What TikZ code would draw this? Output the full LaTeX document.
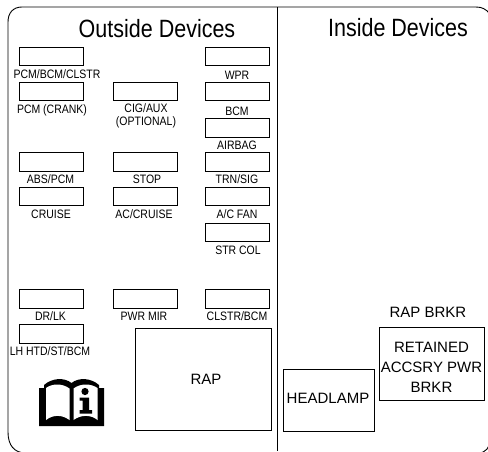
\documentclass[tikz,border=0pt]{standalone}
\usepackage{fontspec}
\setmainfont[FakeStretch=0.86]{Liberation Sans}
\newfontfamily\wideface[FakeStretch=1.0]{Liberation Sans}
\tikzset{
  x=1pt,y=-1pt,
  frame/.style={draw=black,line width=0.9pt},
  fuse/.style={draw=black,line width=1.1pt,fill=white,minimum width=64pt,minimum height=18.5pt,inner sep=0pt,anchor=north west},
  relay/.style={draw=black,line width=1.2pt,fill=white,inner sep=0pt,anchor=north west},
  lab/.style={inner sep=0pt,font=\fontsize{12.2}{13}\selectfont,align=center,text=black},
  biglab/.style={inner sep=0pt,font=\wideface\fontsize{15}{20}\selectfont,align=center,text=black},
  head/.style={inner sep=0pt,font=\fontsize{25}{28}\selectfont,text=black}
}
\begin{document}
\begin{tikzpicture}
\useasboundingbox (0,0) rectangle (488,451);
\clip (0,0) rectangle (488,451);
\fill[white] (0,0) rectangle (488,451);
% frame
\draw[frame] (8,432) -- (8,22) .. controls (8,13) and (13,7) .. (22,7) -- (476,7) .. controls (482,7) and (486,9) .. (490,14) -- (490,440) .. controls (490,447) and (486,453) .. (478,453) -- (26,453) .. controls (14,453) and (8,445) .. (8,432);
\coordinate (dt) at (277.2,7);
\coordinate (db) at (277.2,451);
\draw[frame] (dt) -- (db);
\node[head] (h1) at (157,29) {Outside Devices};
\node[head] (h2) at (398,28) {Inside Devices};
% fuses
\foreach \n/\x/\y in {a/18.5/46.5,b/18.5/81.5,c/113/81.5,d/18.5/152,e/113/152,f/18.5/186.5,g/113/186.5,
  k/205/46.5,l/205/81.5,m/205/118,n/205/152,o/205/186.5,p/205/222.5,q/18.5/289,r/113/289,s/205/289,t/18.5/324}
  \node[fuse] (\n) at (\x,\y) {};
\node[lab] (la) at (57,74.5) {PCM/BCM/CLSTR};
\node[lab] (lb) at (52,110.5) {PCM (CRANK)};
\node[lab] (lc) at (146,115.5) {CIG/AUX\\(OPTIONAL)};
\node[lab] (ld) at (50.5,179.5) {ABS/PCM};
\node[lab] (le) at (147,179.5) {STOP};
\node[lab] (lf) at (51,214.5) {CRUISE};
\node[lab] (lg) at (144,214.5) {AC/CRUISE};
\node[lab] (lk) at (237,75) {WPR};
\node[lab] (ll) at (237,111.5) {BCM};
\node[lab] (lm) at (237,145.5) {AIRBAG};
\node[lab] (ln) at (237,179.5) {TRN/SIG};
\node[lab] (lo) at (237,214.5) {A/C FAN};
\node[lab] (lp) at (238,250.5) {STR COL};
\node[lab] (lq) at (50.5,316.5) {DR/LK};
\node[lab] (lr) at (144,316.5) {PWR MIR};
\node[lab] (ls) at (237,316.5) {CLSTR/BCM};
\node[lab] (lt) at (50,351) {LH HTD/ST/BCM};
% relays
\node[relay,minimum width=136pt,minimum height=102pt] (rap) at (135,328) {};
\node[biglab] (lrap) at (206,379) {RAP};
\node[relay,minimum width=91pt,minimum height=62pt] (hl) at (282.5,369) {};
\node[biglab] (lhl) at (328,398.5) {HEADLAMP};
\node[relay,minimum width=104.5pt,minimum height=73pt] (rt) at (379,327) {};
\node[biglab] (lrt) at (431.5,367) {RETAINED\\ACCSRY PWR\\BRKR};
\node[biglab] (lr2) at (428,312.5) {RAP BRKR};
% book
\fill[black] (39,426) -- (39,388) -- (44,388) -- (44,385) .. controls (52,378) and (64,377) .. (71.5,383) .. controls (79,377) and (91,378) .. (99,385) -- (99,388) -- (104,388) -- (104,426) -- cycle;
\fill[white] (46,420) -- (46,388) .. controls (52,383.5) and (62,383) .. (69.5,388.5) -- (69.5,420) .. controls (62,414.5) and (53,414.5) .. (46,420) -- cycle;
\fill[white] (73.5,420) -- (73.5,388.5) .. controls (81,383) and (91,383.5) .. (97.5,388) -- (97.5,420) .. controls (91,414.5) and (81,414.5) .. (73.5,420) -- cycle;
\fill[black] (85,391.5) circle (3.6);
\fill[black] (79.5,397.5) -- (89,397.5) -- (89,410) -- (92,410) -- (92,413.5) -- (79.5,413.5) -- (79.5,410) -- (82.5,410) -- (82.5,400.5) -- (79.5,400.5) -- cycle;
\end{tikzpicture}
\end{document}
